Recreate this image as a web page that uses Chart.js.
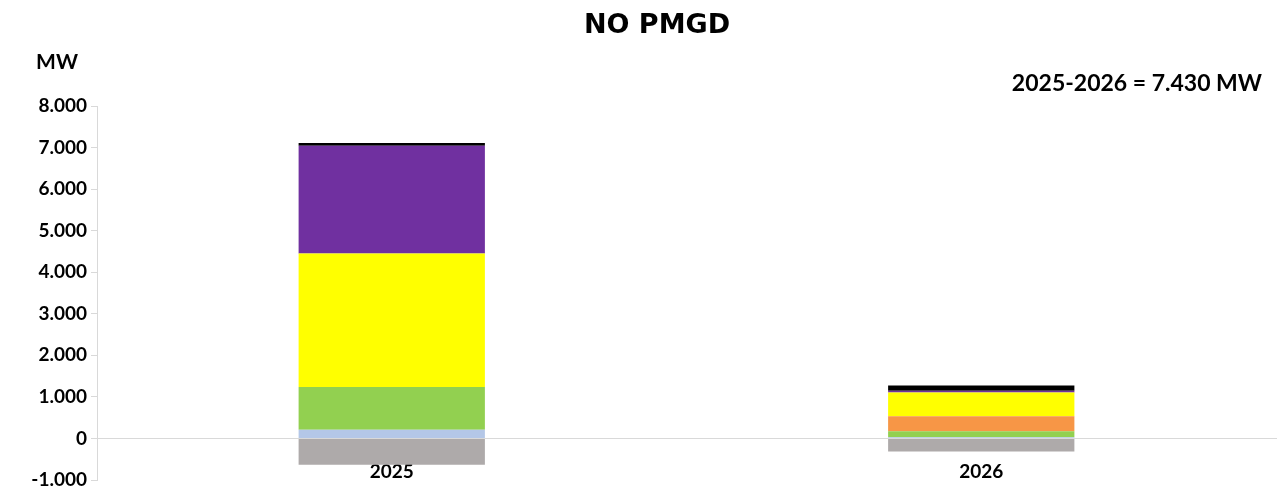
<!DOCTYPE html>
<html>
<head>
<meta charset="utf-8">
<script src="https://cdn.jsdelivr.net/npm/chart.js@4/dist/chart.umd.min.js"></script>
<style>
  html, body { margin: 0; padding: 0; background: #fff; }
  #wrap { width: 1278px; height: 498px; }
</style>
</head>
<body>
<div id="wrap"><canvas id="chart" width="1278" height="498"></canvas></div>
<script>
// Data (MW)
const years = ['2025', '2026'];
const lightBlue = [210, 31];
const green = [1027, 145];
const orange = [0, 361];
const yellow = [3214, 571];
const purple = [2593, 41];
const black = [65, 128];
const gray = [-634, -313];

const yMin = -1000;
const yMax = 8000;
const yStep = 1000;

const fontFamily = 'Lato, "Open Sans", sans-serif';

// 8000 -> "8.000"
function formatMW(v) {
  const sign = v < 0 ? '-' : '';
  const s = String(Math.abs(Math.round(v)));
  return sign + s.replace(/\B(?=(\d{3})+(?!\d))/g, '.');
}

// Title, unit label and total (title sits right of the canvas centre in the original)
const extraText = {
  id: 'extraText',
  afterDraw(chart) {
    const ctx = chart.ctx;
    ctx.save();
    ctx.fillStyle = '#000';
    ctx.textBaseline = 'middle';
    ctx.textAlign = 'center';
    ctx.font = 'bold 27px "DejaVu Sans", sans-serif';
    ctx.fillText('NO PMGD', 657, 26);
    ctx.font = 'bold 21px ' + fontFamily;
    ctx.fillText('MW', 57, 62);
    ctx.textAlign = 'right';
    ctx.font = 'bold 23px ' + fontFamily;
    ctx.fillText('2025-2026 = 7.430 MW', 1262, 84);
    ctx.restore();
  }
};

function bar(label, data, color) {
  return {
    label: label,
    data: data,
    backgroundColor: color,
    borderWidth: 0,
    stack: 'total',
    barPercentage: 1,
    categoryPercentage: 0.316
  };
}

const ctx = document.getElementById('chart').getContext('2d');
const chart = new Chart(ctx, {
  type: 'bar',
  data: {
    labels: years,
    datasets: [
      bar('Serie 1', lightBlue, '#B4C7E7'),
      bar('Serie 2', green, '#92D050'),
      bar('Serie 3', orange, '#F79646'),
      bar('Serie 4', yellow, '#FFFF00'),
      bar('Serie 5', purple, '#7030A0'),
      bar('Serie 6', black, '#000000'),
      bar('Serie 7', gray, '#AEAAAA')
    ]
  },
  options: {
    responsive: false,
    animation: false,
    layout: {
      padding: { left: 0, right: 2, top: 106, bottom: 18 }
    },
    plugins: {
      legend: { display: false },
      tooltip: { enabled: false },
      title: { display: false }
    },
    scales: {
      x: {
        stacked: true,
        position: { y: 0 },
        grid: { display: false, drawTicks: false },
        border: { display: true, color: '#d9d9d9', width: 1 },
        ticks: {
          color: '#000',
          padding: 22,
          font: { family: fontFamily, size: 19, weight: 'bold' }
        }
      },
      y: {
        stacked: true,
        min: yMin,
        max: yMax,
        grid: {
          drawOnChartArea: false,
          drawTicks: true,
          tickLength: 6,
          color: '#d9d9d9'
        },
        border: { display: true, color: '#d9d9d9', width: 1 },
        ticks: {
          stepSize: yStep,
          color: '#000',
          padding: 4,
          font: { family: fontFamily, size: 19, weight: 'bold' },
          callback: (v) => formatMW(v)
        },
        afterFit(scale) {
          scale.width = 97;
        }
      }
    }
  },
  plugins: [extraText]
});
</script>
</body>
</html>
